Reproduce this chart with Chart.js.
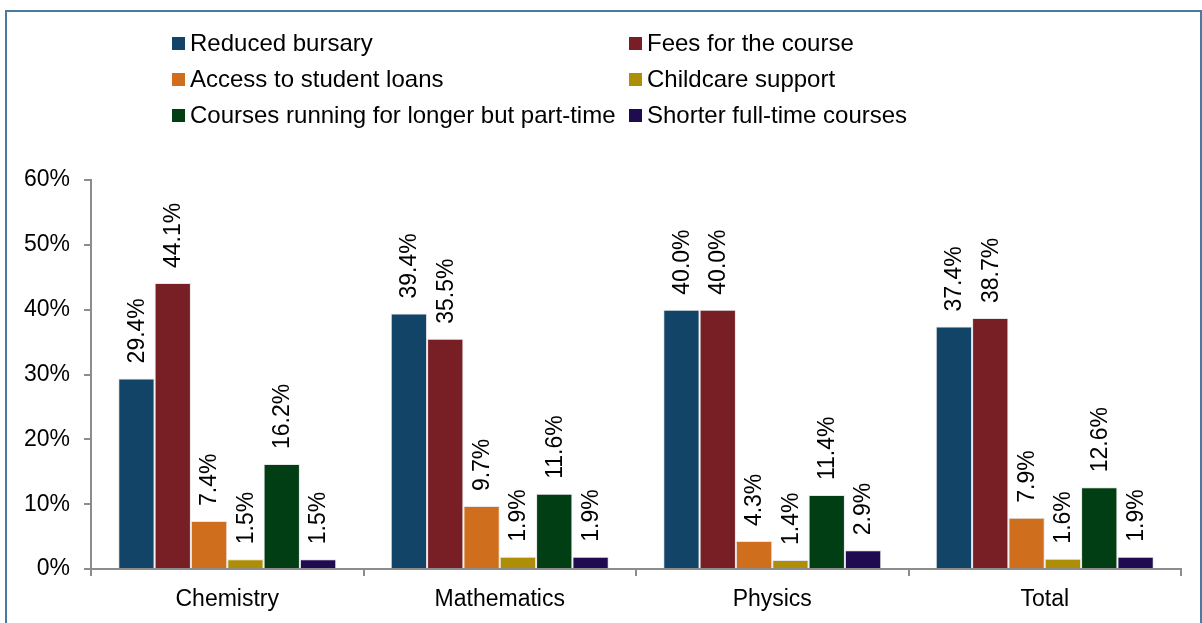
<!DOCTYPE html>
<html>
<head>
<meta charset="utf-8">
<script src="https://cdn.jsdelivr.net/npm/chart.js@4/dist/chart.umd.min.js"></script>
<style>
  html, body { margin: 0; padding: 0; background: #fff; overflow: hidden; }
  #wrap { position: relative; width: 1202px; height: 623px; }
  #frame { position: absolute; left: 5px; top: 10px; width: 1197px; height: 700px; border: 2px solid #4a7b9d; box-sizing: border-box; pointer-events: none; }
  #legend { position: absolute; left: 172px; top: 25px; display: grid; grid-template-columns: 457px auto; row-gap: 0; font-family: "Liberation Sans", Arial, sans-serif; font-size: 24px; color: #000; }
  .item { display: flex; align-items: center; height: 36px; white-space: nowrap; }
  .box { width: 13px; height: 13px; margin-right: 5px; }
  canvas { position: absolute; left: 0; top: 0; }
</style>
</head>
<body>
<div id="wrap">
  <canvas id="chart" width="1202" height="623"></canvas>
  <div id="frame"></div>
  <div id="legend"></div>
</div>
<script>
// 데이터
const categories = ['Chemistry', 'Mathematics', 'Physics', 'Total'];
const seriesLabels = [
    'Reduced bursary',
    'Fees for the course',
    'Access to student loans',
    'Childcare support',
    'Courses running for longer but part-time',
    'Shorter full-time courses'
];
const reducedBursary = [29.4, 39.4, 40.0, 37.4];
const feesForCourse = [44.1, 35.5, 40.0, 38.7];
const studentLoans = [7.4, 9.7, 4.3, 7.9];
const childcare = [1.5, 1.9, 1.4, 1.6];
const longerPartTime = [16.2, 11.6, 11.4, 12.6];
const shorterFullTime = [1.5, 1.9, 2.9, 1.9];
const yTicks = [0, 10, 20, 30, 40, 50, 60];

const seriesData = [reducedBursary, feesForCourse, studentLoans, childcare, longerPartTime, shorterFullTime];
const seriesColors = ['#114466', '#771f25', '#cf6e1d', '#ae8e07', '#013e13', '#200a50'];

const FONT = '"Liberation Sans", Arial, sans-serif';

// 범례 (2열)
const legendEl = document.getElementById('legend');
seriesLabels.forEach((label, i) => {
    const item = document.createElement('div');
    item.className = 'item';
    item.innerHTML = `<span class="box" style="background:${seriesColors[i]}"></span>${label}`;
    legendEl.appendChild(item);
});

// 막대 위 세로 라벨
const valueLabels = {
    id: 'valueLabels',
    afterDatasetsDraw(chart) {
        const ctx = chart.ctx;
        ctx.save();
        ctx.font = '23px ' + FONT;
        ctx.fillStyle = '#000';
        ctx.textAlign = 'left';
        ctx.textBaseline = 'middle';
        chart.data.datasets.forEach((ds, di) => {
            chart.getDatasetMeta(di).data.forEach((bar, i) => {
                ctx.save();
                ctx.translate(bar.x + 1, bar.y - 15);
                ctx.rotate(-Math.PI / 2);
                ctx.fillText(ds.data[i].toFixed(1) + '%', 0, 0);
                ctx.restore();
            });
        });
        ctx.restore();
    }
};

const ctx = document.getElementById('chart').getContext('2d');
new Chart(ctx, {
    type: 'bar',
    data: {
        labels: categories,
        datasets: seriesLabels.map((label, i) => ({
            label: label,
            data: seriesData[i],
            backgroundColor: seriesColors[i],
            borderColor: 'rgba(210,210,210,0.55)',
            borderWidth: 1,
            categoryPercentage: 0.8,
            barPercentage: 1.0
        }))
    },
    options: {
        responsive: false,
        animation: false,
        layout: { padding: { top: 180, right: 21, left: 0, bottom: 0 } },
        plugins: {
            legend: { display: false },
            tooltip: { enabled: false }
        },
        scales: {
            x: {
                offset: true,
                grid: { display: true, offset: true, drawOnChartArea: false, drawTicks: true, tickLength: 7, color: '#8c8c8c', lineWidth: 2 },
                border: { display: true, color: '#8c8c8c', width: 2 },
                ticks: { color: '#000', font: { family: FONT, size: 23 }, padding: 10 },
                afterFit: (scale) => { scale.height = 54; }
            },
            y: {
                min: 0,
                max: 60,
                afterBuildTicks: (scale) => { scale.ticks = yTicks.map(v => ({ value: v })); },
                grid: { display: true, drawOnChartArea: false, drawTicks: true, tickLength: 7, color: '#8c8c8c', lineWidth: 2 },
                border: { display: true, color: '#8c8c8c', width: 2 },
                ticks: { color: '#000', font: { family: FONT, size: 23 }, padding: 14, callback: (v) => v + '%' },
                afterFit: (scale) => { scale.width = 91; }
            }
        }
    },
    plugins: [valueLabels]
});
</script>
</body>
</html>
